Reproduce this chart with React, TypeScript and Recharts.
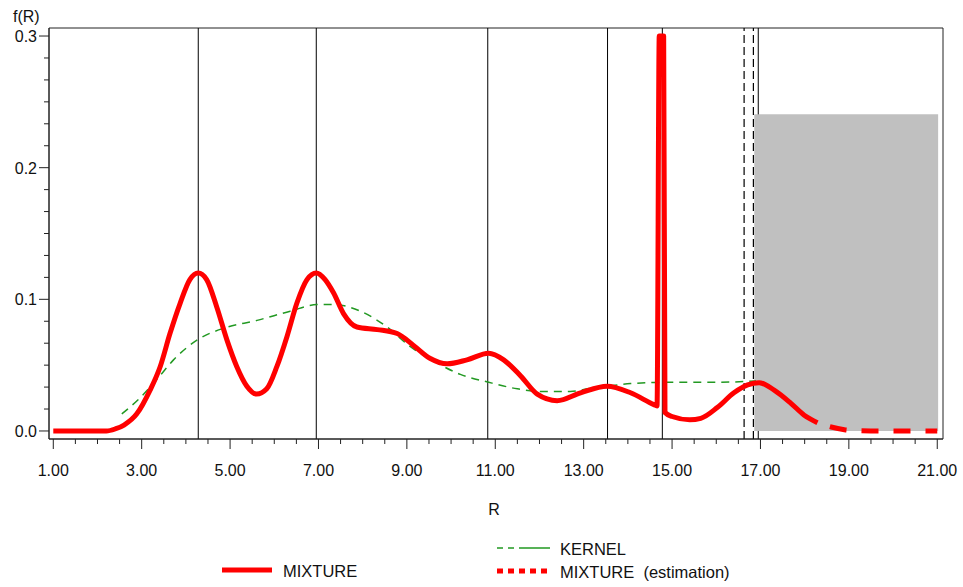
import React from "react";
import {
  ComposedChart,
  Line,
  XAxis,
  YAxis,
  ReferenceLine,
  ReferenceArea,
} from "recharts";

// fitted mixture density
const mixtureR = [
  1.0, 2.2, 2.4, 2.6, 2.89, 3.19, 3.42, 3.64, 3.87, 4.09, 4.28, 4.47, 4.7, 4.93,
  5.15, 5.38, 5.6, 5.83, 6.06, 6.29, 6.51, 6.74, 6.95, 7.15, 7.34, 7.57, 7.87,
  8.33, 8.78, 9.15, 9.53, 9.91, 10.36, 10.85, 11.19, 11.57, 11.95, 12.4, 12.93,
  13.53, 14.06, 14.59, 14.66, 14.71, 14.81, 14.84, 15.0, 15.4, 15.65, 16.03,
  16.4, 16.71, 16.97, 17.31, 17.69, 17.99, 18.29,
];
const mixtureF = [
  0, 0, 0.0015, 0.0045, 0.013, 0.031, 0.049, 0.074, 0.097, 0.115, 0.12, 0.115,
  0.094, 0.069, 0.049, 0.034, 0.028, 0.032, 0.049, 0.072, 0.097, 0.115, 0.12,
  0.115, 0.105, 0.089, 0.079, 0.077, 0.074, 0.065, 0.055, 0.051, 0.054, 0.059,
  0.054, 0.042, 0.028, 0.023, 0.029, 0.034, 0.029, 0.02, 0.019, 0.3, 0.3, 0.014,
  0.011, 0.0085, 0.0096, 0.018, 0.029, 0.035, 0.0367, 0.031, 0.021, 0.012,
  0.0063,
];

// extrapolated tail
const estimationR = [18.29, 18.6, 18.9, 19.2, 19.5, 20.0, 20.5, 21.0];
const estimationF = [0.0063, 0.003, 0.001, 0.0002, 0, 0, 0, 0];

// kernel density estimate
const kernelR = [
  2.55, 2.96, 3.34, 3.72, 4.25, 4.85, 5.61, 6.36, 6.97, 7.34, 7.95, 8.55, 9.08,
  9.61, 10.21, 10.85, 11.5, 12.02, 12.7, 13.08, 13.53, 14.06, 15.0, 16.0, 16.9,
];
const kernelF = [
  0.013, 0.025, 0.039, 0.054, 0.069, 0.078, 0.084, 0.091, 0.096, 0.096, 0.091,
  0.079, 0.064, 0.053, 0.043, 0.037, 0.032, 0.03, 0.03, 0.032, 0.034, 0.036,
  0.037, 0.037, 0.038,
];

// component modes and truncation bounds
const modeLines = [4.28, 6.95, 10.83, 13.54, 14.78];
const lastMode = 16.95;
const boundLines = [16.63, 16.84];
const censored = { r1: 16.86, r2: 21.02, f: 0.2405 };

const xMajor = [1, 3, 5, 7, 9, 11, 13, 15, 17, 19, 21];
const yMajor = [0, 0.1, 0.2, 0.3];
const xDomain = [0.903, 21.13];
const yDomain = [-0.0061, 0.3061];

const xTicks: number[] = [];
for (let i = 0; i <= 40; i++) xTicks.push(1 + i * 0.5);
const yTicks: number[] = [];
for (let i = 0; i <= 18; i++) yTicks.push(i / 60);

const toRows = (rs: number[], fs: number[]) =>
  rs.map((r, i) => ({ r, f: fs[i] }));

const mixture = toRows(mixtureR, mixtureF);
const estimation = toRows(estimationR, estimationF);
const kernel = toRows(kernelR, kernelF);

const FONT = '"Liberation Sans", Arial, Helvetica, sans-serif';
const INK = "#222";
const RED = "#ff0000";
const GREEN = "#229922";

function XTick({ x, y, payload }: any) {
  const v = payload.value as number;
  const major = xMajor.some((m) => Math.abs(m - v) < 1e-6);
  return (
    <g>
      <line x1={x} x2={x} y1={y} y2={y + (major ? 10 : 5)} stroke={INK} />
      {major && (
        <text
          x={x}
          y={y + 37}
          textAnchor="middle"
          fontSize={16}
          fontFamily={FONT}
          fill="#111"
        >
          {v.toFixed(2)}
        </text>
      )}
    </g>
  );
}

function YTick({ x, y, payload }: any) {
  const v = payload.value as number;
  const major = yMajor.some((m) => Math.abs(m - v) < 1e-6);
  return (
    <g>
      <line x1={x - (major ? 10 : 5)} x2={x} y1={y} y2={y} stroke={INK} />
      {major && (
        <text
          x={x - 12}
          y={y + 6}
          textAnchor="end"
          fontSize={16}
          fontFamily={FONT}
          fill="#111"
        >
          {v.toFixed(1)}
        </text>
      )}
    </g>
  );
}

export default function App() {
  return (
    <div
      style={{
        position: "absolute",
        left: 0,
        top: 0,
        width: 963,
        height: 587,
        background: "#fff",
      }}
    >
      <ComposedChart
        width={963}
        height={587}
        margin={{ top: 28, right: 20, bottom: 108, left: 0 }}
      >
        <XAxis
          dataKey="r"
          type="number"
          domain={xDomain}
          ticks={xTicks}
          tick={<XTick />}
          tickSize={0}
          tickMargin={0}
          tickLine={false}
          interval={0}
          height={40}
          allowDataOverflow
          axisLine={{ stroke: INK }}
        />
        <YAxis
          type="number"
          domain={yDomain}
          ticks={yTicks}
          tick={<YTick />}
          tickSize={0}
          tickMargin={0}
          tickLine={false}
          interval={0}
          width={49}
          allowDataOverflow
          axisLine={{ stroke: INK }}
        />
        <ReferenceArea
          x1={xDomain[0]}
          x2={xDomain[1]}
          y1={yDomain[0]}
          y2={yDomain[1]}
          fill="none"
          stroke={INK}
          strokeWidth={1}
        />
        {modeLines.map((r) => (
          <ReferenceLine key={r} x={r} stroke="#000" strokeWidth={1} />
        ))}
        {/* the last mode line is hidden behind the censored block */}
        <ReferenceLine
          segment={[
            { x: lastMode, y: censored.f },
            { x: lastMode, y: yDomain[1] },
          ]}
          stroke="#000"
          strokeWidth={1}
        />
        <ReferenceLine
          segment={[
            { x: lastMode, y: yDomain[0] },
            { x: lastMode, y: 0 },
          ]}
          stroke="#000"
          strokeWidth={1}
        />
        {boundLines.map((r) => (
          <ReferenceLine
            key={r}
            x={r}
            stroke="#000"
            strokeWidth={1.2}
            strokeDasharray="8 4"
          />
        ))}
        <ReferenceArea
          x1={censored.r1}
          x2={censored.r2}
          y1={0}
          y2={censored.f}
          fill="#c0c0c0"
          fillOpacity={1}
          stroke="none"
        />
        <Line
          data={kernel}
          dataKey="f"
          type="monotone"
          stroke={GREEN}
          strokeWidth={1.5}
          strokeDasharray="8 6"
          dot={false}
          isAnimationActive={false}
        />
        <Line
          data={mixture}
          dataKey="f"
          type="monotone"
          stroke={RED}
          strokeWidth={5}
          strokeLinejoin="round"
          dot={false}
          isAnimationActive={false}
        />
        <Line
          data={estimation}
          dataKey="f"
          type="monotone"
          stroke={RED}
          strokeWidth={5}
          strokeDasharray="17 15"
          strokeDashoffset={19}
          dot={false}
          isAnimationActive={false}
        />
      </ComposedChart>

      <svg
        width={963}
        height={587}
        style={{ position: "absolute", left: 0, top: 0, pointerEvents: "none" }}
        fontFamily={FONT}
      >
        <text x={13} y={22} fontSize={16} fill="#111">
          f(R)
        </text>
        <text x={494} y={515} fontSize={16} textAnchor="middle" fill="#111">
          R
        </text>

        <line
          x1={497}
          x2={550}
          y1={548}
          y2={548}
          stroke={GREEN}
          strokeWidth={1.5}
          strokeDasharray="6 5 6 5 40"
        />
        <text x={560} y={555} fontSize={16.5} fill="#111">
          KERNEL
        </text>

        <line x1={222} x2={272} y1={570} y2={570} stroke={RED} strokeWidth={5} />
        <text x={283} y={577} fontSize={16.5} fill="#111">
          MIXTURE
        </text>

        <line
          x1={497}
          x2={550}
          y1={571}
          y2={571}
          stroke={RED}
          strokeWidth={5}
          strokeDasharray="6 5"
        />
        <text x={560} y={578} fontSize={16.5} fill="#111" xmlSpace="preserve">
          MIXTURE  (estimation)
        </text>
      </svg>
    </div>
  );
}
